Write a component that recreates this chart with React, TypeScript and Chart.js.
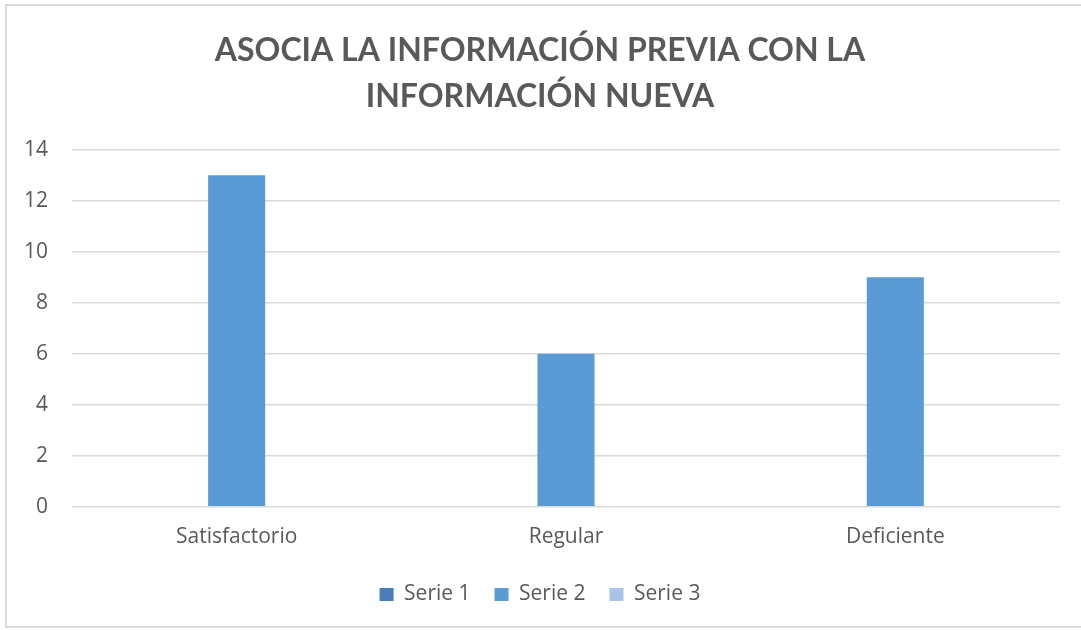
import React, { useEffect, useRef } from "react";
import { Chart, registerables } from "chart.js";

Chart.register(...registerables);

const categories = ["Satisfactorio", "Regular", "Deficiente"];
const serie1: (number | null)[] = [null, null, null];
const serie2: number[] = [13, 6, 9];
const serie3: (number | null)[] = [null, null, null];
const titleLines = ["ASOCIA LA INFORMACIÓN PREVIA CON LA", "INFORMACIÓN NUEVA"];
const seriesNames = ["Serie 1", "Serie 2", "Serie 3"];

const TITLE_FONT = "Lato, 'Open Sans', sans-serif";
const FONT = "'Open Sans', sans-serif";

export default function App() {
  const ref = useRef<HTMLCanvasElement | null>(null);
  useEffect(() => {
    if (!ref.current) return;
    const chart = new Chart(ref.current, {
      type: "bar",
      data: {
        labels: categories,
        datasets: [
          { label: seriesNames[0], data: serie1, backgroundColor: "#4A7EBB" },
          { label: seriesNames[1], data: serie2, backgroundColor: "#5B9BD5" },
          { label: seriesNames[2], data: serie3, backgroundColor: "#A9C4E6" },
        ],
      },
      options: {
        responsive: false,
        animation: false,
        layout: { padding: { left: 20, right: 21, top: 27, bottom: 15 } },
        datasets: { bar: { categoryPercentage: 0.52, barPercentage: 1 } },
        plugins: {
          title: {
            display: true,
            text: titleLines,
            color: "#595959",
            font: { family: TITLE_FONT, size: 32, weight: "bold", lineHeight: 1.45 },
            padding: { top: 0, bottom: 30 },
          },
          legend: {
            position: "bottom",
            labels: {
              color: "#595959",
              font: { family: FONT, size: 21 },
              boxWidth: 14,
              boxHeight: 13,
              padding: 24,
            },
          },
          tooltip: { enabled: false },
        },
        scales: {
          x: {
            grid: { display: false },
            border: { display: false },
            ticks: { color: "#595959", font: { family: FONT, size: 21 }, padding: 10 },
          },
          y: {
            min: 0,
            max: 14,
            ticks: { stepSize: 2, color: "#595959", font: { family: FONT, size: 21 }, padding: 24 },
            grid: { color: "#d9d9d9", lineWidth: 1.5, drawTicks: false },
            border: { display: false },
            afterFit: (s: any) => { s.width = 52; },
          },
        },
      },
    });
    return () => chart.destroy();
  }, []);
  return (
    <div style={{ position: "fixed", left: 0, top: 0, width: 1081, height: 630, background: "#fff" }}>
      <div style={{ position: "absolute", left: 5, top: 4, width: 1080, height: 624, border: "2px solid #d9d9d9", boxSizing: "border-box" }} />
      <canvas ref={ref} width={1081} height={630} style={{ position: "absolute", left: 0, top: 0 }} />
    </div>
  );
}
